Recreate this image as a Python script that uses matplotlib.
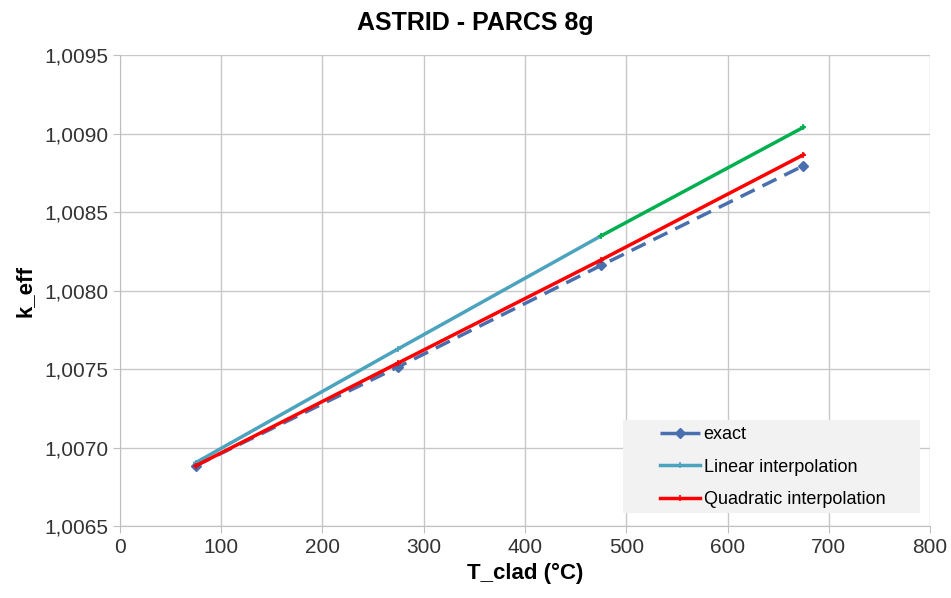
import matplotlib
matplotlib.use("Agg")
import matplotlib.pyplot as plt
from matplotlib.ticker import FuncFormatter, MultipleLocator
from matplotlib.patches import Rectangle

plt.rcParams['font.family'] = ['Liberation Sans', 'DejaVu Sans']

T = [75, 275, 475, 675]
exact = [1.006885, 1.007515, 1.008160, 1.008795]
linear = [1.006905, 1.007630, 1.008348]
linear_extrap_T = [475, 675]
linear_extrap = [1.008348, 1.009040]
quadratic = [1.006885, 1.007540, 1.008195, 1.008865]

xticks = [0, 100, 200, 300, 400, 500, 600, 700, 800]

fig = plt.figure(figsize=(9.51, 5.98), dpi=100)
ax = fig.add_axes([0.126, 0.120, 0.852, 0.788])

ax.plot(T, exact, color='#4a6fae', lw=2.5, ls=(0, (4.5, 2.5)), marker='D', ms=5,
        label='exact', zorder=3)
ax.plot(T[:3], linear, color='#4ba3bd', lw=2.5, marker='+', ms=4, mew=1.2,
        label='Linear interpolation', zorder=4)
ax.plot(linear_extrap_T, linear_extrap, color='#00b050', lw=2.5, marker='+', ms=4,
        mew=1.2, zorder=4)
ax.plot(T, quadratic, color='#ff0000', lw=2.5, marker='+', ms=4, mew=1.2,
        label='Quadratic interpolation', zorder=5)

ax.set_xlim(0, 800)
ax.set_ylim(1.0065, 1.0095)
ax.set_xticks(xticks)
ax.yaxis.set_major_locator(MultipleLocator(0.0005))
ax.yaxis.set_major_formatter(FuncFormatter(lambda v, p: f"{v:.4f}".replace('.', ',')))
ax.grid(True, color='#c8c8c8', lw=1)
ax.set_axisbelow(True)
for s in ['top', 'right']:
    ax.spines[s].set_visible(False)
for s in ['left', 'bottom']:
    ax.spines[s].set_color('#bfbfbf')
ax.tick_params(axis='both', colors='#bfbfbf', labelcolor='#333333', labelsize=15,
               length=5, direction='out')

ax.set_xlabel('T_clad (°C)', fontsize=16, fontweight='bold', labelpad=4)
ax.set_ylabel('k_eff', fontsize=16, fontweight='bold', labelpad=6)
fig.text(0.5, 0.962, 'ASTRID - PARCS 8g', fontsize=18, fontweight='bold',
         ha='center', va='center')

ax.add_patch(Rectangle((0.621, 0.028), 0.367, 0.197, transform=ax.transAxes,
                       facecolor='#f2f2f2', edgecolor='none', zorder=6))
leg = ax.legend(loc='upper left', bbox_to_anchor=(0.667, 0.212), fontsize=13,
                frameon=False, handlelength=2.2, handletextpad=0.2,
                borderpad=0, borderaxespad=0, labelspacing=0.85)
leg.set_zorder(7)

fig.savefig('out.png', dpi=100)
